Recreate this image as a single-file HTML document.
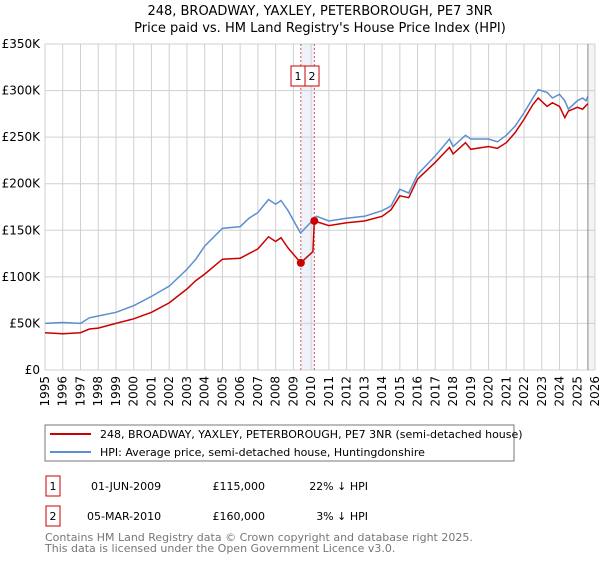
<!DOCTYPE html>
<html><head><meta charset="utf-8"><style>
body{margin:0;background:#fff;font-family:"DejaVu Sans","Liberation Sans",sans-serif;}
svg text{font-family:"DejaVu Sans","Liberation Sans",sans-serif;}
</style></head><body>
<svg id="chart" width="600" height="560" xmlns="http://www.w3.org/2000/svg">
<text x="320" y="15" text-anchor="middle" font-size="13">248, BROADWAY, YAXLEY, PETERBOROUGH, PE7 3NR</text>
<text x="320" y="32" text-anchor="middle" font-size="13">Price paid vs. HM Land Registry's House Price Index (HPI)</text>
<g id="grid"></g><g id="marks"></g><g id="axes"></g>
<rect x="45" y="425" width="469" height="36" fill="#fff" stroke="#777"/>
<line x1="50" y1="434" x2="91" y2="434" stroke="#cc0000" stroke-width="2"/>
<text x="100" y="438" font-size="11">248, BROADWAY, YAXLEY, PETERBOROUGH, PE7 3NR (semi-detached house)</text>
<line x1="50" y1="452" x2="91" y2="452" stroke="#5b8fd0" stroke-width="2"/>
<text x="100" y="456" font-size="11">HPI: Average price, semi-detached house, Huntingdonshire</text>
<rect x="46" y="476" width="14" height="20" fill="#fff" stroke="#cc0000"/>
<text x="53" y="490" font-size="11" text-anchor="middle">1</text>
<text x="91" y="490" font-size="11">01-JUN-2009</text>
<text x="265" y="490" font-size="11" text-anchor="end">£115,000</text>
<text x="368" y="490" font-size="11" text-anchor="end">22% ↓ HPI</text>
<rect x="46" y="506" width="14" height="20" fill="#fff" stroke="#cc0000"/>
<text x="53" y="520" font-size="11" text-anchor="middle">2</text>
<text x="87" y="520" font-size="11">05-MAR-2010</text>
<text x="265" y="520" font-size="11" text-anchor="end">£160,000</text>
<text x="368" y="520" font-size="11" text-anchor="end">3% ↓ HPI</text>
<text x="45" y="541" font-size="11" fill="#777">Contains HM Land Registry data © Crown copyright and database right 2025.</text>
<text x="45" y="552" font-size="11" fill="#777">This data is licensed under the Open Government Licence v3.0.</text>
</svg>
<script>
const yTicks=[0,50,100,150,200,250,300,350];
const yTickLabels=["£0","£50K","£100K","£150K","£200K","£250K","£300K","£350K"];
const years=[1995,1996,1997,1998,1999,2000,2001,2002,2003,2004,2005,2006,2007,2008,2009,2010,2011,2012,2013,2014,2015,2016,2017,2018,2019,2020,2021,2022,2023,2024,2025,2026];
const hpiT=[1995,1996,1997,1997.5,1998,1999,2000,2001,2002,2003,2003.5,2004,2005,2006,2006.5,2007,2007.6,2008,2008.3,2008.7,2009.4,2009.8,2010.3,2011,2012,2013,2014,2014.5,2015,2015.5,2016,2017,2017.8,2018,2018.7,2019,2020,2020.5,2021,2021.5,2022,2022.5,2022.8,2023.3,2023.6,2024,2024.3,2024.5,2025,2025.3,2025.5,2025.6];
const hpiV=[50,51,50,56,58,62,69,79,90,108,119,133,152,154,163,169,183,178,182,171,147,155,165,160,163,165,171,176,194,190,210,230,248,240,252,248,248,245,252,262,276,292,301,298,292,296,289,280,289,292,289,294];
const priceT=[1995,1996,1997,1997.5,1998,1999,2000,2001,2002,2003,2003.5,2004,2005,2006,2006.5,2007,2007.6,2008,2008.3,2008.7,2009.42,2009.8,2010.1,2010.18,2011,2012,2013,2014,2014.5,2015,2015.5,2016,2017,2017.8,2018,2018.7,2019,2020,2020.5,2021,2021.5,2022,2022.5,2022.8,2023.3,2023.6,2024,2024.3,2024.5,2025,2025.3,2025.6];
const priceV=[40,39,40,44,45,50,55,62,72,87,96,103,119,120,125,130,143,138,142,131,115,122,127,160,155,158,160,165,172,187,185,205,223,239,232,244,237,240,238,244,255,269,285,292,283,287,283,271,278,282,280,286];
const saleT=[2009.42,2010.18];
const saleV=[115,160];
const saleLabels=["1","2"];
const X0=45,X1=595,Y0=370,Y1=44;
const xs=t=>X0+(t-1995)/(2026-1995)*(X1-X0);
const ys=v=>Y0-v/350*(Y0-Y1);
const NS="http://www.w3.org/2000/svg";
function mk(p,tag,a){const e=document.createElementNS(NS,tag);for(const k in a)e.setAttribute(k,a[k]);p.appendChild(e);return e;}
const grid=document.getElementById('grid'),marks=document.getElementById('marks'),axes=document.getElementById('axes');
let band=mk(grid,'rect',{x:xs(saleT[0]),y:Y1,width:xs(saleT[1])-xs(saleT[0]),height:Y0-Y1,fill:'#eef3fb'});


let hx=xs(2025.6);
let hat=mk(grid,'rect',{x:hx,y:Y1,width:X1-hx,height:Y0-Y1,fill:'#f4f4f4'});


years.forEach(y=>{
 let l=mk(grid,'line',{x1:xs(y),x2:xs(y),y1:Y1,y2:Y0,stroke:'#d0d0d0'});
 
 
 let tx=xs(y)+4,ty=Y0+6;
 let t=mk(axes,'text',{x:tx,y:ty,'font-size':12,'text-anchor':'end',transform:`rotate(-90 ${tx} ${ty})`});t.textContent=y;
 
 
});
yTicks.forEach((v,i)=>{
 let l=mk(grid,'line',{x1:X0,x2:X1,y1:ys(v),y2:ys(v),stroke:'#d0d0d0'});
 
 
 let t=mk(axes,'text',{x:X0-5,y:ys(v)+4,'font-size':12,'text-anchor':'end'});t.textContent=yTickLabels[i];
 
 
});
let hl=mk(grid,'line',{x1:hx,x2:hx,y1:Y1,y2:Y0,stroke:'#888'});


saleT.forEach((t,i)=>{
 let l=mk(grid,'line',{x1:xs(t),x2:xs(t),y1:Y1,y2:Y0,stroke:'#e05050','stroke-dasharray':'2,2'});
 
 
});
function path(T,V,c,name){let d=T.map((t,i)=>(i?'L':'M')+xs(t).toFixed(1)+','+ys(V[i]).toFixed(1)).join('');
 let p=mk(marks,'path',{d:d,fill:'none',stroke:c,'stroke-width':1.5});
 
 }
path(hpiT,hpiV,'#5b8fd0','hpi-line');
path(priceT,priceV,'#cc0000','price-line');
saleT.forEach((t,i)=>{
 let c=mk(marks,'circle',{cx:xs(t),cy:ys(saleV[i]),r:4,fill:'#cc0000'});
 
 
 let bx=i==0?291:305;
 let r=mk(marks,'rect',{x:bx,y:66,width:14,height:20,fill:'#fff',stroke:'#cc0000'});
 
 
 let tx=mk(marks,'text',{x:bx+7,y:80,'font-size':11,'text-anchor':'middle'});tx.textContent=saleLabels[i];
 
 
});
</script>
</body></html>
